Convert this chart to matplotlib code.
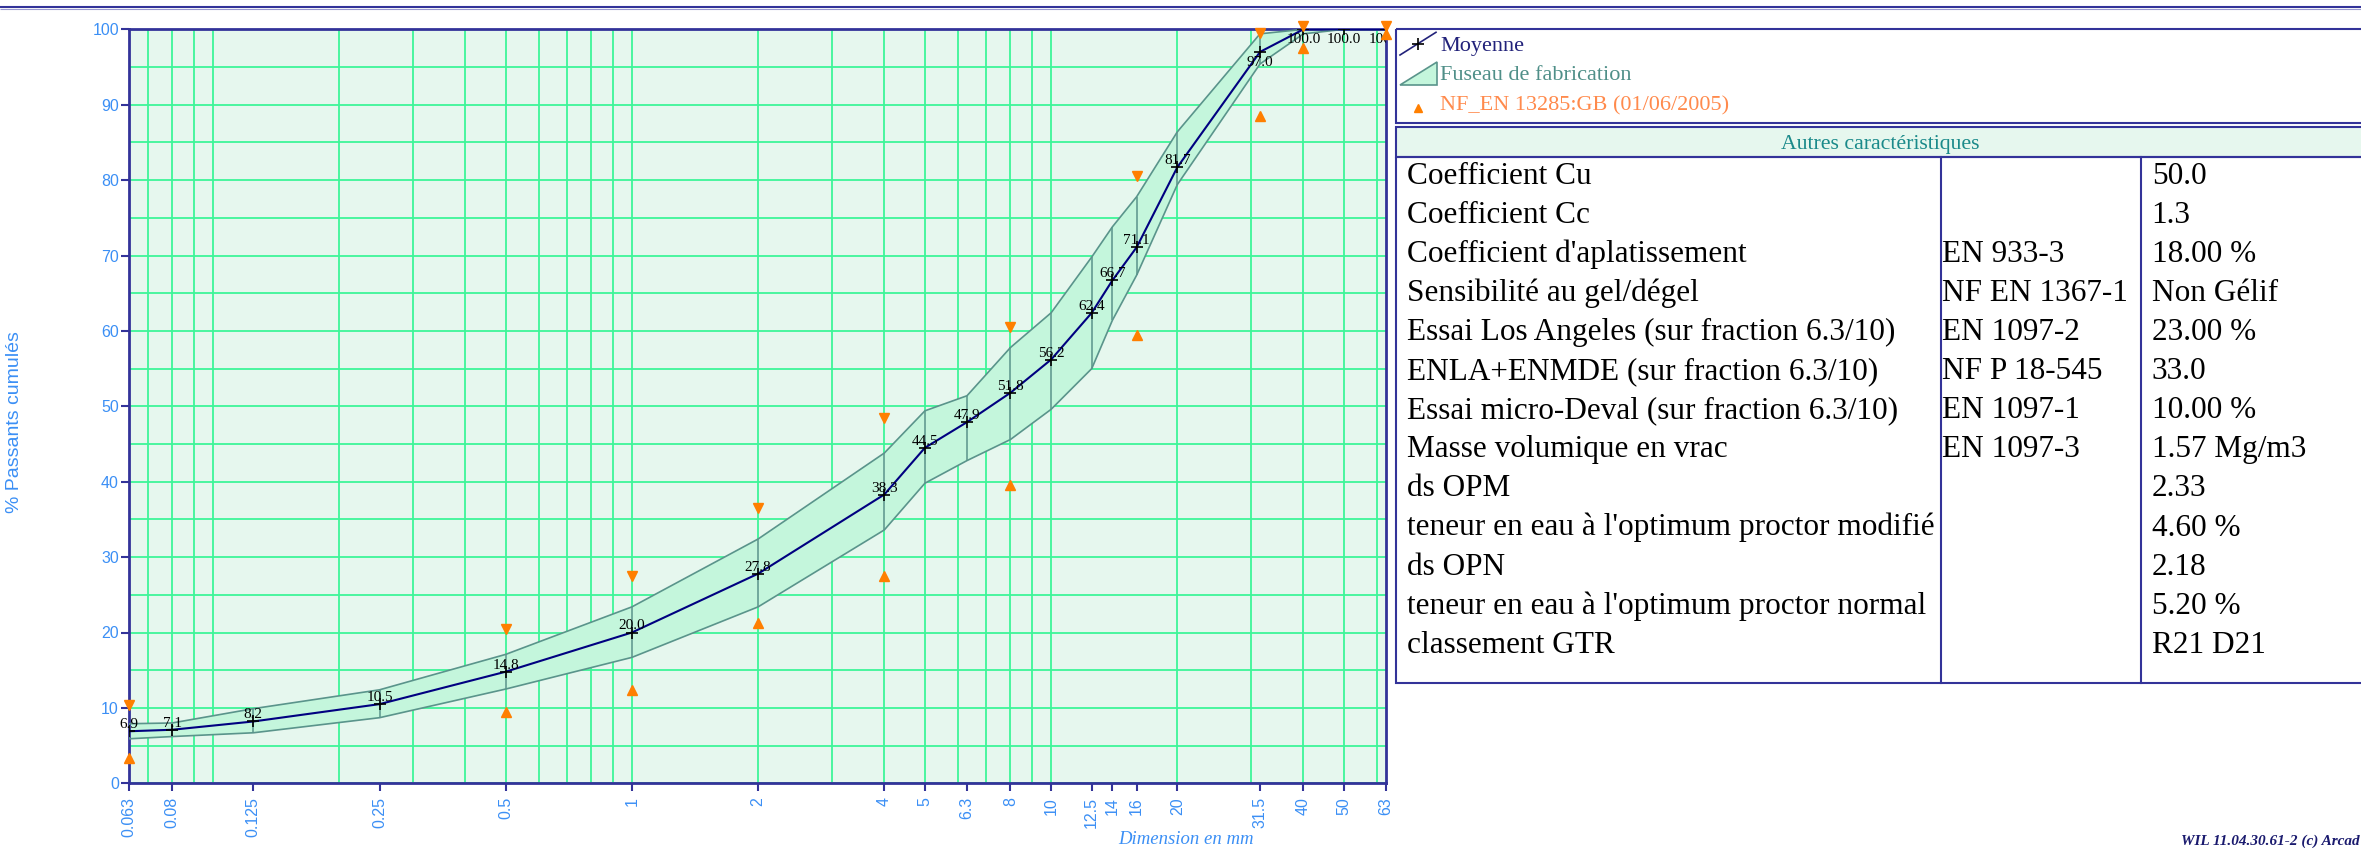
import matplotlib
matplotlib.use('Agg')
import matplotlib.pyplot as plt
from matplotlib.patches import Polygon, Rectangle
from matplotlib.ticker import FixedLocator, LogLocator, MultipleLocator, NullFormatter
import numpy as np

# ---------------- data ----------------
sieves = [0.063, 0.08, 0.125, 0.25, 0.5, 1, 2, 4, 5, 6.3, 8, 10, 12.5, 14, 16, 20, 31.5, 40, 50, 63]
sieve_labels = ["0.063", "0.08", "0.125", "0.25", "0.5", "1", "2", "4", "5", "6.3", "8", "10",
                "12.5", "14", "16", "20", "31.5", "40", "50", "63"]
mean_pass = [6.9, 7.1, 8.2, 10.5, 14.8, 20.0, 27.8, 38.3, 44.5, 47.9, 51.8, 56.2, 62.4, 66.7,
             71.1, 81.7, 97.0, 100.0, 100.0, 100.0]
fuseau_upper = [7.9, 8.0, 9.9, 12.4, 17.1, 23.4, 32.4, 43.8, 49.4, 51.4, 57.8, 62.4, 69.8, 73.8,
                77.8, 86.4, 99.4, 100.0, 100.0, 100.0]
fuseau_lower = [5.9, 6.2, 6.7, 8.7, 12.5, 16.7, 23.4, 33.6, 39.8, 42.8, 45.6, 49.6, 55.0, 61.4,
                67.4, 79.4, 95.4, 99.4, 100.0, 100.0]
spec_sieves = [0.063, 0.5, 1, 2, 4, 8, 16, 31.5, 40, 63]
spec_max = [10.4, 20.4, 27.5, 36.5, 48.5, 60.5, 80.5, 99.5, 100.5, 100.5]
spec_min = [3.4, 9.4, 12.4, 21.3, 27.5, 39.5, 59.5, 88.5, 97.5, 99.4]
y_ticks = list(range(0, 101, 10))

legend_labels = ["Moyenne", "Fuseau de fabrication", "NF_EN 13285:GB (01/06/2005)"]
table_title = "Autres caractéristiques"
char_names = ["Coefficient Cu", "Coefficient Cc", "Coefficient d'aplatissement",
              "Sensibilité au gel/dégel", "Essai Los Angeles (sur fraction 6.3/10)",
              "ENLA+ENMDE (sur fraction 6.3/10)", "Essai micro-Deval (sur fraction 6.3/10)",
              "Masse volumique en vrac", "ds OPM", "teneur en eau à l'optimum proctor modifié",
              "ds OPN", "teneur en eau à l'optimum proctor normal", "classement GTR"]
char_norms = ["", "", "EN 933-3", "NF EN 1367-1", "EN 1097-2", "NF P 18-545", "EN 1097-1",
              "EN 1097-3", "", "", "", "", ""]
char_values = ["50.0", "1.3", "18.00 %", "Non Gélif", "23.00 %", "33.0", "10.00 %", "1.57 Mg/m3",
               "2.33", "4.60 %", "2.18", "5.20 %", "R21 D21"]
footer = "WIL 11.04.30.61-2 (c) Arcad"

# ---------------- styles ----------------
NAVY = '#333399'
BLUE_TXT = '#3b8ff5'
GRID = '#3df598'
BG = '#e6f7ee'
FUSEAU_FILL = '#c4f6dc'
FUSEAU_EDGE = '#5a948b'
ORANGE = '#ff7f00'
NARROW = ['Liberation Sans Narrow', 'Liberation Sans', 'DejaVu Sans']
SERIF = ['Liberation Serif', 'DejaVu Serif']

W, H = 2361, 848
fig = plt.figure(figsize=(W / 100, H / 100), dpi=100)


def fx(px):
    return px / W


def fy(py):
    return 1 - py / H


# ---------------- main chart ----------------
L, R, T, B = 128.6, 1386.2, 29.3, 783.3
ax = fig.add_axes([fx(L), fy(B), fx(R) - fx(L), fy(T) - fy(B)], zorder=2)
ax.set_xscale('log')
ax.set_xlim(sieves[0], sieves[-1])
ax.set_ylim(0, 100)
ax.set_facecolor(BG)
ax.set_axisbelow(True)

ax.xaxis.set_major_locator(FixedLocator(sieves))
ax.set_xticklabels(sieve_labels, rotation=90, family=NARROW)
ax.xaxis.set_minor_locator(LogLocator(base=10, subs=np.arange(1, 10), numticks=50))
ax.xaxis.set_minor_formatter(NullFormatter())
ax.xaxis.remove_overlapping_locs = False
ax.yaxis.set_major_locator(FixedLocator(y_ticks))
ax.set_yticklabels([str(v) for v in y_ticks], family=NARROW)
ax.yaxis.set_minor_locator(MultipleLocator(5))

ax.tick_params(which='major', direction='out', length=6, width=1.5, color=NAVY,
               labelcolor=BLUE_TXT, labelsize=11.5)
ax.tick_params(axis='x', which='major', pad=4)
ax.tick_params(axis='y', which='major', pad=1)
ax.tick_params(which='minor', length=0)
ax.grid(True, axis='x', which='minor', color=GRID, lw=1.3)
ax.grid(True, axis='y', which='both', color=GRID, lw=1.3)
ax.grid(False, axis='x', which='major')
for s in ax.spines.values():
    s.set_color(NAVY)
    s.set_linewidth(2)

# fuseau
ax.fill_between(sieves, fuseau_lower, fuseau_upper, facecolor=FUSEAU_FILL, edgecolor='none', zorder=2)
ax.plot(sieves, fuseau_upper, color=FUSEAU_EDGE, lw=1.2, zorder=3)
ax.plot(sieves, fuseau_lower, color=FUSEAU_EDGE, lw=1.2, zorder=3)
ax.vlines(sieves, fuseau_lower, fuseau_upper, color=FUSEAU_EDGE, lw=1.1, zorder=3)

# mean curve
ax.plot(sieves, mean_pass, color='#000080', lw=1.5, zorder=4)
ax.plot(sieves, mean_pass, ls='none', marker='+', color='black', ms=8, mew=1.2, zorder=5)
label_clip = Rectangle((0, 0), fx(R), 1, transform=fig.transFigure)
for x, v in zip(sieves, mean_pass):
    if v >= 95:
        ann = ax.annotate(f"{v:.1f}", (x, v), xytext=(0, -3), textcoords='offset points',
                          ha='center', va='top', fontsize=11, family=SERIF, color='black',
                          zorder=6, annotation_clip=False)
    else:
        ann = ax.annotate(f"{v:.1f}", (x, v), xytext=(0, 0), textcoords='offset points',
                          ha='center', va='bottom', fontsize=11, family=SERIF, color='black',
                          zorder=6, annotation_clip=False)
    ann.set_clip_path(label_clip)

# specification markers
ax.plot(spec_sieves, spec_max, ls='none', marker='v', color=ORANGE, ms=7, clip_on=False, zorder=7)
ax.plot(spec_sieves, spec_min, ls='none', marker='^', color=ORANGE, ms=7, clip_on=False, zorder=7)

# axis titles
fig.text(fx(14.5), fy(422), "% Passants cumulés", rotation=90, ha='center', va='center',
         color=BLUE_TXT, fontsize=14, family=NARROW)
fig.text(fx(1186), fy(840), "Dimension en mm", ha='center', va='center', style='italic',
         color=BLUE_TXT, fontsize=13.5, family=SERIF)

# ---------------- overlay: legend + table ----------------
ov = fig.add_axes([0, 0, 1, 1], zorder=1)
ov.set_xlim(0, W)
ov.set_ylim(H, 0)
ov.axis('off')
ov.patch.set_alpha(0)

# top double line
ov.plot([0, W], [6.8, 6.8], color=NAVY, lw=1.5, solid_capstyle='butt')
ov.plot([0, W], [8.8, 8.8], color='#9a9ad0', lw=0.8, solid_capstyle='butt')

XL, XR = 1396, 2366
# legend box
ov.add_patch(Rectangle((XL, 29.3), XR - XL, 122.7 - 29.3, fill=False, edgecolor=NAVY, lw=1.5))
ov.plot([1400, 1436], [55, 32.3], color='#22227a', lw=1.2)
ov.plot([1417.5], [43.5], marker='+', color='black', ms=8, mew=1.2)
ov.add_patch(Polygon([(1400, 85), (1436.7, 85), (1436.7, 61.7)], closed=True,
                     facecolor=FUSEAU_FILL, edgecolor=FUSEAU_EDGE, lw=1.2))
ov.plot([1418.3], [107.5], marker='^', color=ORANGE, ms=6)
leg_colors = ['#22227a', '#4f8f88', '#ff8a4c']
leg_base = [50.5, 80.0, 110.5]
for lab, col, yb in zip(legend_labels, leg_colors, leg_base):
    ov.text(1440, yb, lab, color=col, fontsize=16, family=SERIF, ha='left', va='baseline')

# table header
ov.add_patch(Rectangle((XL, 127), XR - XL, 157 - 127, facecolor=BG, edgecolor=NAVY, lw=1.5))
ov.text(1880, 148.5, table_title, color='#1a8a8a', fontsize=15.7, family=SERIF,
        ha='center', va='baseline')

# table body
TB_TOP, TB_BOT = 157, 682.7
ov.add_patch(Rectangle((XL, TB_TOP), XR - XL, TB_BOT - TB_TOP, fill=False, edgecolor=NAVY, lw=1.5))
ov.plot([1941, 1941], [TB_TOP, TB_BOT], color=NAVY, lw=1.5)
ov.plot([2141, 2141], [TB_TOP, TB_BOT], color=NAVY, lw=1.5)
for i, (nm, nr, vl) in enumerate(zip(char_names, char_norms, char_values)):
    yb = 183.6 + 39.1 * i
    ov.text(1406.8, yb, nm, fontsize=22.5, family=SERIF, color='black', ha='left', va='baseline')
    ov.text(1941.7, yb, nr, fontsize=22.5, family=SERIF, color='black', ha='left', va='baseline')
    ov.text(2151.7, yb, vl, fontsize=22.5, family=SERIF, color='black', ha='left', va='baseline')

# footer
ov.text(2181, 844.5, footer, fontsize=11, family=SERIF, style='italic', weight='bold',
        color='#1a1a6e', ha='left', va='baseline')

fig.savefig('out.png', dpi=100)
